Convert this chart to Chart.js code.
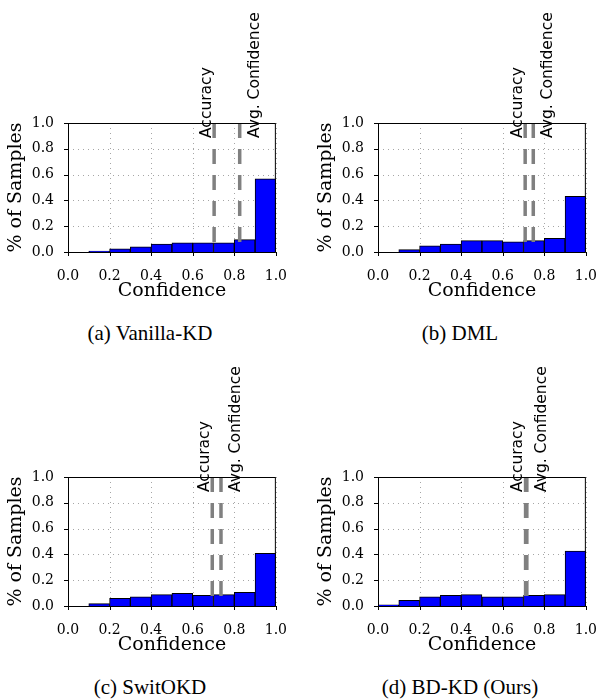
<!DOCTYPE html>
<html>
<head>
<meta charset="utf-8">
<script src="https://cdn.jsdelivr.net/npm/chart.js@4"></script>
<style>
  body { margin: 0; background: #fff; }
  #fig { position: relative; width: 605px; height: 700px; }
  canvas { position: absolute; }
  .cap { position: absolute; width: 300px; text-align: center; font: 21px "Liberation Serif", serif; color: #000; }
</style>
</head>
<body>
<div id="fig">
  <canvas id="chartA" width="295" height="315" style="left:0;top:0"></canvas>
  <canvas id="chartB" width="295" height="315" style="left:310px;top:0"></canvas>
  <canvas id="chartC" width="295" height="315" style="left:0;top:354px"></canvas>
  <canvas id="chartD" width="295" height="315" style="left:310px;top:354px"></canvas>
  <div class="cap" style="left:0;top:321px">(a) Vanilla-KD</div>
  <div class="cap" style="left:310px;top:321px">(b) DML</div>
  <div class="cap" style="left:0;top:675px">(c) SwitOKD</div>
  <div class="cap" style="left:310px;top:675px">(d) BD-KD (Ours)</div>
</div>
<script>
// Datos: histogramas de confianza (bins de 0.1)
const binStarts = [0.0, 0.1, 0.2, 0.3, 0.4, 0.5, 0.6, 0.7, 0.8, 0.9];
const vanillaKD = [0, 0.008, 0.024, 0.040, 0.062, 0.072, 0.072, 0.072, 0.096, 0.568];
const dml       = [0, 0.018, 0.047, 0.062, 0.088, 0.088, 0.078, 0.088, 0.106, 0.432];
const switOKD   = [0, 0.018, 0.059, 0.072, 0.088, 0.098, 0.083, 0.088, 0.106, 0.408];
const bdKD      = [0.010, 0.044, 0.072, 0.083, 0.088, 0.072, 0.072, 0.083, 0.088, 0.426];

// Accuracy / Avg. Confidence de cada modelo
const accuracy = [0.703, 0.708, 0.694, 0.710];
const avgConf  = [0.826, 0.747, 0.736, 0.716];

const tickValues = [0.0, 0.2, 0.4, 0.6, 0.8, 1.0];

const serifFamily = "'DejaVu Serif', serif";
Chart.defaults.font.family = serifFamily;

// Rejilla punteada, marcas, líneas de accuracy/confianza y marco
const calibLines = {
    id: 'calibLines',
    beforeDatasetsDraw(chart) {
        const { ctx, chartArea: a, scales: { x, y } } = chart;
        ctx.save();
        ctx.strokeStyle = 'rgba(0,0,0,0.35)';
        ctx.lineWidth = 1;
        ctx.setLineDash([1, 4]);
        tickValues.forEach(v => {
            const px = Math.round(x.getPixelForValue(v)) + 0.5;
            const py = Math.round(y.getPixelForValue(v)) + 0.5;
            ctx.beginPath(); ctx.moveTo(px, a.top); ctx.lineTo(px, a.bottom); ctx.stroke();
            ctx.beginPath(); ctx.moveTo(a.left, py); ctx.lineTo(a.right, py); ctx.stroke();
        });
        ctx.setLineDash([]);
        ctx.strokeStyle = '#000';
        tickValues.forEach(v => {
            const px = Math.round(x.getPixelForValue(v)) + 0.5;
            const py = Math.round(y.getPixelForValue(v)) + 0.5;
            ctx.beginPath(); ctx.moveTo(px, a.bottom); ctx.lineTo(px, a.bottom + 4); ctx.stroke();
            ctx.beginPath(); ctx.moveTo(a.left - 4, py); ctx.lineTo(a.left, py); ctx.stroke();
        });
        ctx.restore();
    },
    afterDatasetsDraw(chart, args, opts) {
        const { ctx, chartArea: a, scales: { x, y } } = chart;
        ctx.save();
        ctx.strokeStyle = '#808080';
        ctx.lineWidth = 3.5;
        ctx.setLineDash([15, 11]);
        [opts.acc, opts.conf].forEach(v => {
            const px = x.getPixelForValue(v);
            ctx.beginPath();
            ctx.moveTo(px, a.top);
            ctx.lineTo(px, a.bottom);
            ctx.stroke();
        });
        ctx.setLineDash([]);
        ctx.strokeStyle = '#000';
        ctx.lineWidth = 1;
        ctx.strokeRect(a.left + 0.5, a.top + 0.5, a.width - 1, a.height);

        ctx.font = "15.5px 'DejaVu Sans', sans-serif";
        ctx.fillStyle = '#000';
        const ty = y.getPixelForValue(0.884);
        ctx.save();
        ctx.translate(x.getPixelForValue(opts.acc) - 3.5, ty);
        ctx.rotate(-Math.PI / 2);
        ctx.fillText('Accuracy', 0, 0);
        ctx.restore();
        ctx.save();
        ctx.translate(x.getPixelForValue(opts.conf) + 19, ty);
        ctx.rotate(-Math.PI / 2);
        ctx.fillText('Avg. Confidence', 0, 0);
        ctx.restore();
        ctx.restore();
    }
};

function makeHist(id, values, acc, conf) {
    return new Chart(document.getElementById(id), {
        type: 'bar',
        data: {
            datasets: [{
                data: binStarts.map((b, i) => ({ x: b + 0.05, y: values[i] })),
                backgroundColor: '#0000ff',
                borderColor: '#000',
                borderWidth: 1,
                barPercentage: 1,
                categoryPercentage: 1
            }]
        },
        options: {
            responsive: false,
            animation: false,
            events: [],
            layout: { padding: { top: 123, right: 13, left: 0, bottom: 0 } },
            plugins: { legend: { display: false }, tooltip: { enabled: false }, calibLines: { acc, conf } },
            scales: {
                x: {
                    type: 'linear', min: 0, max: 1, offset: false,
                    afterBuildTicks: s => { s.ticks = tickValues.map(v => ({ value: v })); },
                    afterFit: s => { s.height = 63; },
                    grid: { display: false },
                    ticks: { callback: v => v.toFixed(1), color: '#000', padding: 8, maxRotation: 0,
                             font: { family: serifFamily, size: 14 } },
                    title: { display: true, text: 'Confidence', color: '#000',
                             font: { family: serifFamily, size: 19 }, padding: { top: 0, bottom: 12.6 } }
                },
                y: {
                    min: 0, max: 1,
                    afterBuildTicks: s => { s.ticks = tickValues.map(v => ({ value: v })); },
                    afterFit: s => { s.width = 68; },
                    grid: { display: false },
                    ticks: { callback: v => v.toFixed(1), color: '#000', padding: 6,
                             font: { family: serifFamily, size: 14 } },
                    title: { display: true, text: '% of Samples', color: '#000',
                             font: { family: serifFamily, size: 19 }, padding: { top: 5, bottom: 0 } }
                }
            }
        },
        plugins: [calibLines]
    });
}

makeHist('chartA', vanillaKD, accuracy[0], avgConf[0]);
makeHist('chartB', dml, accuracy[1], avgConf[1]);
makeHist('chartC', switOKD, accuracy[2], avgConf[2]);
makeHist('chartD', bdKD, accuracy[3], avgConf[3]);
</script>
</body>
</html>
